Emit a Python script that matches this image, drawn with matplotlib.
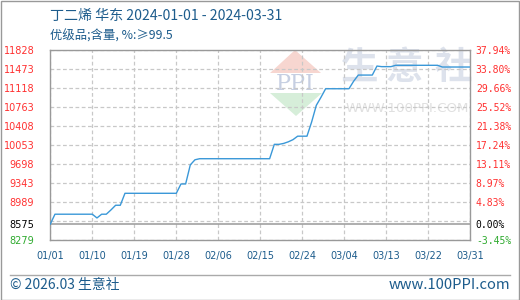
import matplotlib
matplotlib.use("Agg")
import matplotlib.pyplot as plt
from matplotlib.patches import Polygon, Rectangle
import pandas as pd

# ---------------- data ----------------
start_date = "2024-01-01"
end_date = "2024-03-31"
prices = [
    8575, 8760, 8760, 8760, 8760, 8760, 8760, 8760, 8760, 8760,   # 01/01-01/10
    8690, 8760, 8760, 8840, 8927, 8927, 9150, 9150, 9150, 9150,   # 01/11-01/20
    9150, 9150, 9150, 9150, 9150, 9150, 9150, 9150, 9324, 9324,   # 01/21-01/30
    9680, 9775, 9795, 9795, 9795, 9795, 9795, 9795, 9795, 9795,   # 01/31-02/09
    9795, 9795, 9795, 9795, 9795, 9795, 9795, 9795, 10063, 10063, # 02/10-02/19
    10080, 10110, 10150, 10215, 10215, 10215, 10480, 10790, 10940, 11100,  # 02/20-02/29
    11100, 11100, 11100, 11100, 11100, 11240, 11355, 11355, 11355, 11355,  # 03/01-03/10
    11523, 11512, 11512, 11512, 11537, 11537, 11537, 11537, 11537, 11537,  # 03/11-03/20
    11537, 11537, 11537, 11537, 11505, 11505, 11505, 11505, 11505, 11505,  # 03/21-03/30
    11505,                                                          # 03/31
]
base_price = 8575
grid_values = [11828, 11473, 11118, 10763, 10408, 10053, 9698, 9343, 8989, 8634, 8279]
left_tick_values = [11828, 11473, 11118, 10763, 10408, 10053, 9698, 9343, 8989, 8575, 8279]
left_tick_labels = ["11828", "11473", "11118", "10763", "10408", "10053", "9698", "9343", "8989", "8575", "8279"]
right_tick_labels = ["37.94%", "33.80%", "29.66%", "25.52%", "21.38%", "17.24%", "13.11%", "8.97%", "4.83%", "0.00%", "-3.45%"]
x_tick_labels = ["01/01", "01/10", "01/19", "01/28", "02/06", "02/15", "02/24", "03/04", "03/13", "03/22", "03/31"]
title_text = "丁二烯 华东 2024-01-01 - 2024-03-31"
subtitle_text = "优级品;含量, %:≥99.5"
footer_left = "© 2026.03 生意社"
footer_right = "www.100PPI.com"

dates = pd.date_range(start_date, end_date, freq="D")
series = pd.Series(prices, index=dates)

# ---------------- figure ----------------
W, H = 520, 300
fig = plt.figure(figsize=(W / 100, H / 100), dpi=100)
fig.patch.set_facecolor("white")

ax_l, ax_r, ax_t, ax_b = 50.3, 470.3, 49.7, 240.0
ax = fig.add_axes([ax_l / W, 1 - ax_b / H, (ax_r - ax_l) / W, (ax_b - ax_t) / H])

CJK = ["Noto Sans CJK SC", "DejaVu Sans"]
BLUE_TXT = "#1d5c8c"
RED = "#ff3030"
GREEN = "#2eaa2e"
GRID = "#c8c8c8"

ax.set_xlim(dates[0], dates[-1])
ax.set_ylim(min(grid_values), max(grid_values))

# grid
for v in grid_values:
    ax.axhline(v, color=GRID, lw=0.9, ls=(0, (3, 2)), zorder=1)
xt = [dates[0] + pd.Timedelta(days=9 * i) for i in range(len(x_tick_labels))]
for d in xt:
    ax.axvline(d, color=GRID, lw=0.9, ls=(0, (3, 2)), zorder=1)
ax.axhline(base_price, color="#999999", lw=1.1, zorder=1.5)

# watermark (axes coords from pixel coords)
def px(xp, yp):
    return ((xp - ax_l) / (ax_r - ax_l), (ax_b - yp) / (ax_b - ax_t))

ax.add_patch(Polygon([px(295, 50), px(270, 73), px(321, 73)], closed=True,
                     transform=ax.transAxes, facecolor="#f7d6d0", edgecolor="none", zorder=0.5))
ax.add_patch(Polygon([px(270, 93), px(322, 93), px(296, 116)], closed=True,
                     transform=ax.transAxes, facecolor="#d6eed9", edgecolor="none", zorder=0.5))
ax.text(*px(295.5, 84), "PPI", transform=ax.transAxes, ha="center", va="center",
        fontsize=16, family="DejaVu Serif", color="#c6cfe2", zorder=0.6)
for ch, cx in zip("生意社", [360, 404, 453]):
    ax.text(*px(cx, 68), ch, transform=ax.transAxes, ha="center", va="center",
            fontsize=27, family=CJK, fontweight="bold", color="#dde2ec", zorder=0.6)
ax.text(*px(407.5, 108.5), "WWW.100PPI.COM", transform=ax.transAxes, ha="center", va="center",
        fontsize=9.6, family="DejaVu Sans", color="#e0e0e0", zorder=0.6)

# line
ax.plot(series.index, series.values, color="#3a98d8", lw=1.0, zorder=3)

# spines
for s in ax.spines.values():
    s.set_color("#999999")
    s.set_linewidth(1.0)

# x ticks
ax.set_xticks(xt)
ax.set_xticklabels(x_tick_labels, fontsize=7, color=BLUE_TXT, family="DejaVu Sans")
ax.tick_params(axis="x", length=0, pad=8)

# left ticks
ax.set_yticks(left_tick_values)
ax.set_yticklabels(left_tick_labels, fontsize=7.0, family="DejaVu Sans")
ax.tick_params(axis="y", length=0, pad=11.5)
for lab, v in zip(ax.get_yticklabels(), left_tick_values):
    lab.set_color(RED if v > base_price else ("black" if v == base_price else GREEN))

# right ticks
ax2 = ax.twinx()
ax2.set_ylim(ax.get_ylim())
ax2.set_yticks(left_tick_values)
ax2.set_yticklabels(right_tick_labels, fontsize=7, family="DejaVu Sans Mono")
ax2.tick_params(axis="y", length=0, pad=4)
for lab, v in zip(ax2.get_yticklabels(), left_tick_values):
    lab.set_color(RED if v > base_price else ("black" if v == base_price else GREEN))
for s in ax2.spines.values():
    s.set_visible(False)

# titles
fig.text(50 / W, 1 - 16 / H, title_text, fontsize=10.1, family=CJK, color=BLUE_TXT, ha="left", va="center")
fig.text(50 / W, 1 - 36 / H, subtitle_text, fontsize=8.9, family=CJK, color=BLUE_TXT, ha="left", va="center")

# footer
fig.add_artist(plt.Line2D([10 / W, 510 / W], [1 - 275 / H, 1 - 275 / H], color="#aaaaaa", lw=1.0))
fig.text(10 / W, 1 - 285 / H, footer_left, fontsize=10, family=CJK, color=BLUE_TXT, ha="left", va="center")
fig.text(510 / W, 1 - 285 / H, footer_right, fontsize=10.6, family=CJK, color=BLUE_TXT, ha="right", va="center")

# outer border
fig.add_artist(Rectangle((0.5 / W, 0.5 / H), (W - 1.5) / W, (H - 1.5) / H, transform=fig.transFigure,
                         fill=False, edgecolor="#999999", lw=1.0))

fig.savefig("out.png", dpi=100)
